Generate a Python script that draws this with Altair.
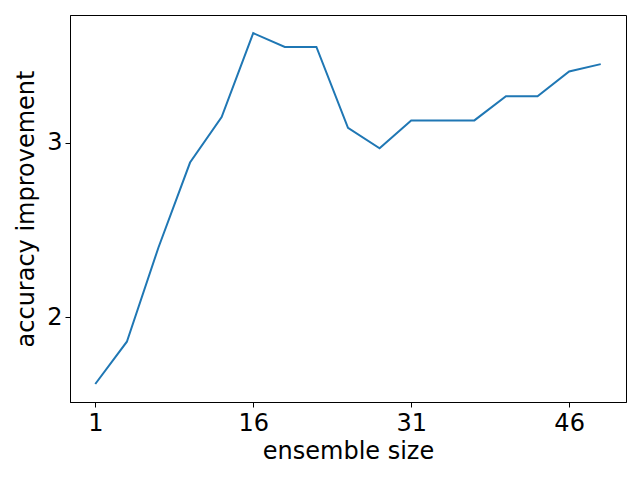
import altair as alt
import pandas as pd

ensemble_size = [1, 4, 7, 10, 13, 16, 19, 22, 25, 28, 31, 34, 37, 40, 43, 46, 49]
accuracy_improvement = [1.619, 1.861, 2.40, 2.886, 3.146, 3.626, 3.547, 3.547, 3.084,
                        2.967, 3.127, 3.127, 3.127, 3.265, 3.265, 3.407, 3.449]
x_ticks = [1, 16, 31, 46]
y_ticks = [2, 3]

df = pd.DataFrame({"x": ensemble_size, "y": accuracy_improvement})

font = "DejaVu Sans"

chart = alt.Chart(df).mark_line(color="#1f77b4", strokeWidth=2, clip=True).encode(
    x=alt.X("x:Q", scale=alt.Scale(domain=[-1.4, 51.4], nice=False, zero=False),
            axis=alt.Axis(values=x_ticks, title="ensemble size", grid=False,
                          domainColor="black", tickColor="black", tickSize=5,
                          labelFontSize=24, titleFontSize=24, labelFont=font, titleFont=font,
                          labelColor="black", titleColor="black", titleFontWeight="normal",
                          labelPadding=4, titlePadding=4, labelFlush=False)),
    y=alt.Y("y:Q", scale=alt.Scale(domain=[1.516, 3.73], nice=False, zero=False),
            axis=alt.Axis(values=y_ticks, title="accuracy improvement", grid=False,
                          domainColor="black", tickColor="black", tickSize=5,
                          labelFontSize=24, titleFontSize=24, labelFont=font, titleFont=font,
                          labelColor="black", titleColor="black", titleFontWeight="normal",
                          labelPadding=3, titlePadding=8, labelFlush=False)),
).properties(
    width=556, height=387,
    autosize=alt.AutoSizeParams(type="none"),
    padding={"left": 62, "top": 7, "right": 6, "bottom": 65},
).configure_view(stroke="black", strokeWidth=1)

chart.save("out.html", embed_options={"renderer": "svg", "actions": False})
